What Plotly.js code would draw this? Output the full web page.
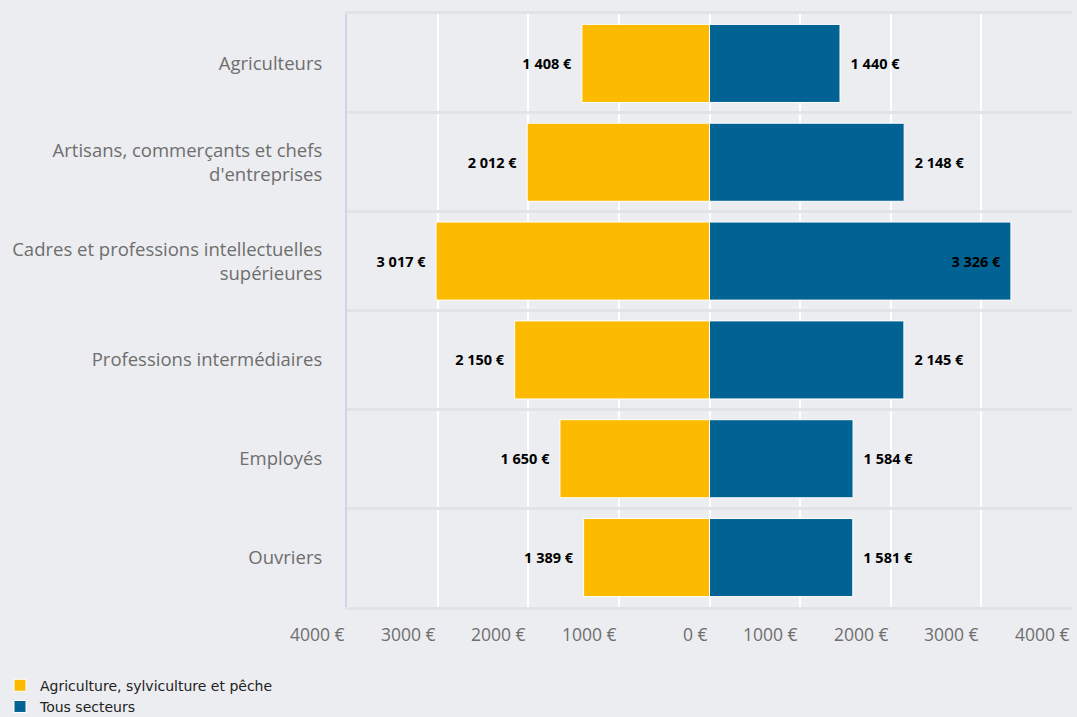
<!DOCTYPE html>
<html>
<head>
<meta charset="utf-8">
<script src="https://cdn.plot.ly/plotly-3.0.1.min.js"></script>
<style>html,body{margin:0;padding:0;background:#ecedf0;}#chart{width:1077px;height:717px;}</style>
</head>
<body>
<div id="chart"></div>
<script>
const categories = [
  "Agriculteurs",
  "Artisans, commerçants et chefs<br>d'entreprises",
  "Cadres et professions intellectuelles<br>supérieures",
  "Professions intermédiaires",
  "Employés",
  "Ouvriers"
];
const agriculture = [1408, 2012, 3017, 2150, 1650, 1389];
const tousSecteurs = [1440, 2148, 3326, 2145, 1584, 1581];
const seriesNames = ["Agriculture, sylviculture et pêche", "Tous secteurs"];
const tickValues = [-4000, -3000, -2000, -1000, 0, 1000, 2000, 3000, 4000];
const tickLabels = ["4000 €", "3000 €", "2000 €", "1000 €", "0 €", "1000 €", "2000 €", "3000 €", "4000 €"];

const nb = "\u00a0";
function fmt(v) {
  return String(v).replace(/\B(?=(\d{3})+(?!\d))/g, nb) + nb + "€";
}
const leftText = agriculture.map(v => fmt(v) + nb + nb);
const rightPos = tousSecteurs.map(v => v > 3000 ? "inside" : "outside");
const rightText = tousSecteurs.map((v, i) => rightPos[i] === "inside" ? fmt(v) + nb + nb : nb + nb + fmt(v));

const labelFont = {family: "Open Sans", size: 14.5, color: "#000", weight: 700};

const traces = [
  {
    type: "bar", orientation: "h", name: seriesNames[0],
    y: categories, x: agriculture.map(v => -v),
    text: leftText, textposition: "outside", cliponaxis: false,
    textfont: labelFont, outsidetextfont: labelFont,
    marker: {color: "#fcba00", line: {color: "#ffffff", width: 1}},
    width: 0.79, hoverinfo: "skip"
  },
  {
    type: "bar", orientation: "h", name: seriesNames[1],
    y: categories, x: tousSecteurs,
    text: rightText, textposition: rightPos, insidetextanchor: "end", cliponaxis: false,
    textfont: labelFont, insidetextfont: labelFont, outsidetextfont: labelFont,
    constraintext: "none",
    marker: {color: "#006394", line: {color: "#ffffff", width: 1}},
    width: 0.79, hoverinfo: "skip"
  }
];

const annotations = tickValues.map((v, i) => ({
  x: v, xref: "x", y: 0, yref: "paper",
  xanchor: "right", yanchor: "top", yshift: -13,
  text: tickLabels[i], showarrow: false,
  font: {family: "Open Sans", size: 17.5, color: "#6e6e6e"}
}));

const layout = {
  width: 1077, height: 717,
  paper_bgcolor: "#ecedf0", plot_bgcolor: "#ecedf0",
  margin: {l: 347, r: 5, t: 14, b: 110, autoexpand: false},
  barmode: "overlay",
  showlegend: true,
  legend: {
    xref: "container", yref: "container", x: 0, y: 0.066, xanchor: "left", yanchor: "top",
    orientation: "v", bgcolor: "rgba(0,0,0,0)", traceorder: "normal",
    font: {family: "DejaVu Sans", size: 14, color: "#222"}, itemclick: false
  },
  xaxis: {
    range: [-4000, 4000], tickvals: tickValues, showticklabels: false,
    showgrid: true, gridcolor: "#ffffff", gridwidth: 2,
    zeroline: false, showline: true, mirror: true, linecolor: "#e2e3e5", linewidth: 3,
    fixedrange: true
  },
  yaxis: {
    autorange: "reversed", type: "category", tickson: "boundaries",
    showgrid: true, gridcolor: "#e2e3e5", gridwidth: 3,
    showline: true, linecolor: "#ccd6eb", linewidth: 2,
    ticks: "", ticklabelstandoff: 19,
    tickfont: {family: "Open Sans", size: 18.5, color: "#6e6e6e"},
    fixedrange: true
  },
  annotations: annotations,
  font: {family: "Open Sans"}
};

Plotly.newPlot("chart", traces, layout, {displayModeBar: false, staticPlot: true});
</script>
</body>
</html>
